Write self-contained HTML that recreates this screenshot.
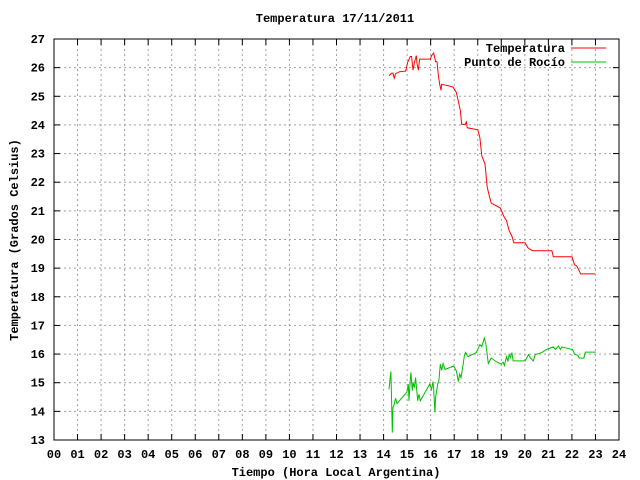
<!DOCTYPE html>
<html><head><meta charset="utf-8"><style>
html,body{margin:0;padding:0;background:#fff;}
svg{display:block;}
text{font-family:"Liberation Mono","DejaVu Sans Mono",monospace;font-weight:bold;font-size:12px;fill:#000;}
</style></head><body>
<svg id="chart" width="640" height="480" xmlns="http://www.w3.org/2000/svg">
<g id="grid"></g>
<g id="axes"></g>
<g id="series"></g>
<text x="335" y="22" text-anchor="middle">Temperatura 17/11/2011</text>
<text x="336" y="476" text-anchor="middle">Tiempo (Hora Local Argentina)</text>
<text x="0" y="0" transform="translate(18,240) rotate(-90)" text-anchor="middle">Temperatura (Grados Celsius)</text>
<g>
<text x="565" y="52" text-anchor="end">Temperatura</text>
<line x1="571" y1="48" x2="606" y2="48" stroke="#ff0000" stroke-width="1"/>
<text x="565" y="66" text-anchor="end">Punto de Rocío</text>
<line x1="571" y1="62" x2="606" y2="62" stroke="#00c000" stroke-width="1"/>
</g>
</svg>
<script>
const xTicks = ["00","01","02","03","04","05","06","07","08","09","10","11","12","13","14","15","16","17","18","19","20","21","22","23","24"];
const yTicks = [13,14,15,16,17,18,19,20,21,22,23,24,25,26,27];
const tempHours = [14.23,14.34,14.40,14.45,14.51,14.68,14.94,15.02,15.13,15.19,15.25,15.31,15.39,15.42,15.48,15.53,15.99,16.04,16.13,16.21,16.27,16.33,16.38,16.44,16.47,16.75,16.95,17.09,17.18,17.26,17.32,17.46,17.52,17.55,18.0,18.09,18.17,18.31,18.4,18.48,18.57,18.96,19.1,19.22,19.33,19.45,19.53,20.01,20.13,20.33,21.15,21.21,22.0,22.11,22.2,22.28,22.37,22.99];
const tempValues = [25.72,25.81,25.81,25.63,25.79,25.86,25.88,26.18,26.39,26.39,25.91,26.18,26.42,26.14,25.91,26.3,26.3,26.42,26.51,26.21,26.21,25.72,25.44,25.21,25.42,25.37,25.32,25.14,24.81,24.51,24.02,24.02,24.11,23.9,23.83,23.55,22.92,22.64,21.83,21.55,21.27,21.10,20.82,20.66,20.31,20.12,19.89,19.89,19.71,19.61,19.61,19.4,19.4,19.12,19.08,18.96,18.80,18.80];
const dewHours = [14.23,14.28,14.31,14.34,14.37,14.4,14.45,14.51,14.57,14.99,15.05,15.08,15.13,15.16,15.22,15.25,15.31,15.36,15.45,15.5,15.56,15.96,16.04,16.1,16.13,16.18,16.21,16.3,16.35,16.41,16.47,16.53,16.61,16.98,17.09,17.18,17.23,17.29,17.38,17.43,17.49,17.58,17.94,18.09,18.17,18.28,18.34,18.45,18.57,18.77,18.99,19.08,19.13,19.22,19.28,19.33,19.39,19.45,19.5,20.01,20.16,20.24,20.36,20.44,20.72,20.92,21.21,21.3,21.43,21.51,21.57,22.03,22.11,22.26,22.31,22.51,22.57,23.02];
const dewValues = [14.77,15.18,15.39,14.37,13.26,14.13,14.25,14.46,14.27,14.67,14.95,14.37,15.07,15.36,14.72,15.01,14.83,15.18,14.37,14.6,14.37,14.95,14.77,15.04,14.77,13.96,14.48,14.95,15.07,15.65,15.44,15.67,15.47,15.58,15.42,15.04,15.3,15.18,15.65,15.93,16.06,15.91,16.05,16.33,16.26,16.56,16.37,15.67,15.86,15.74,15.65,15.72,15.6,15.91,15.74,15.98,15.88,16.05,15.76,15.76,15.98,15.86,15.76,15.98,16.05,16.16,16.25,16.16,16.28,16.16,16.25,16.16,16.0,15.95,15.86,15.86,16.07,16.07];

const L=54, R=619, T=39, B=440;
const xs = h => L + (R-L)*h/24;
const ys = v => B - (B-T)*(v-13)/14;
const NS="http://www.w3.org/2000/svg";
function mk(tag, parent){const e=document.createElementNS(NS,tag);parent.appendChild(e);return e;}
const grid=document.getElementById('grid'), axes=document.getElementById('axes'), series=document.getElementById('series');

xTicks.forEach((lab,i)=>{
  const x=xs(i);
  if(i>0&&i<24){
    const g=mk('line',grid);
    
    
    g.setAttribute('x1',x);g.setAttribute('x2',x);g.setAttribute('y1',T);g.setAttribute('y2',B);
    g.setAttribute('stroke','#a0a0a0');g.setAttribute('stroke-dasharray','2,3');
  }
  const t=mk('line',axes);
  
  
  t.setAttribute('x1',x);t.setAttribute('x2',x);t.setAttribute('y1',B);t.setAttribute('y2',B-6);t.setAttribute('stroke','#000');
  const t2=mk('line',axes);
  
  
  t2.setAttribute('x1',x);t2.setAttribute('x2',x);t2.setAttribute('y1',T);t2.setAttribute('y2',T+6);t2.setAttribute('stroke','#000');
  const l=mk('text',axes);
  
  
  l.setAttribute('x',x);l.setAttribute('y',B+18);l.setAttribute('text-anchor','middle');l.textContent=lab;
});
yTicks.forEach(v=>{
  const y=ys(v);
  if(v>13&&v<27){
    const g=mk('line',grid);
    
    
    g.setAttribute('x1',L);g.setAttribute('x2',R);g.setAttribute('y1',y);g.setAttribute('y2',y);
    g.setAttribute('stroke','#a0a0a0');g.setAttribute('stroke-dasharray','2,3');
  }
  const t=mk('line',axes);
  
  
  t.setAttribute('x1',L);t.setAttribute('x2',L+6);t.setAttribute('y1',y);t.setAttribute('y2',y);t.setAttribute('stroke','#000');
  const t2=mk('line',axes);
  
  
  t2.setAttribute('x1',R);t2.setAttribute('x2',R-6);t2.setAttribute('y1',y);t2.setAttribute('y2',y);t2.setAttribute('stroke','#000');
  const l=mk('text',axes);
  
  
  l.setAttribute('x',L-9);l.setAttribute('y',y+4);l.setAttribute('text-anchor','end');l.textContent=v;
});
const fr=mk('rect',axes);


fr.setAttribute('x',L);fr.setAttribute('y',T);fr.setAttribute('width',R-L);fr.setAttribute('height',B-T);
fr.setAttribute('fill','none');fr.setAttribute('stroke','#000');

function line(hours, vals, color, name){
  const p=mk('polyline',series);
  
  
  p.setAttribute('points',hours.map((h,i)=>xs(h).toFixed(1)+','+ys(vals[i]).toFixed(1)).join(' '));
  p.setAttribute('fill','none');p.setAttribute('stroke',color);p.setAttribute('stroke-width','1');
}
line(tempHours,tempValues,'#ff0000','temperatura-line');
line(dewHours,dewValues,'#00c000','punto-de-rocio-line');
</script>
</body></html>
